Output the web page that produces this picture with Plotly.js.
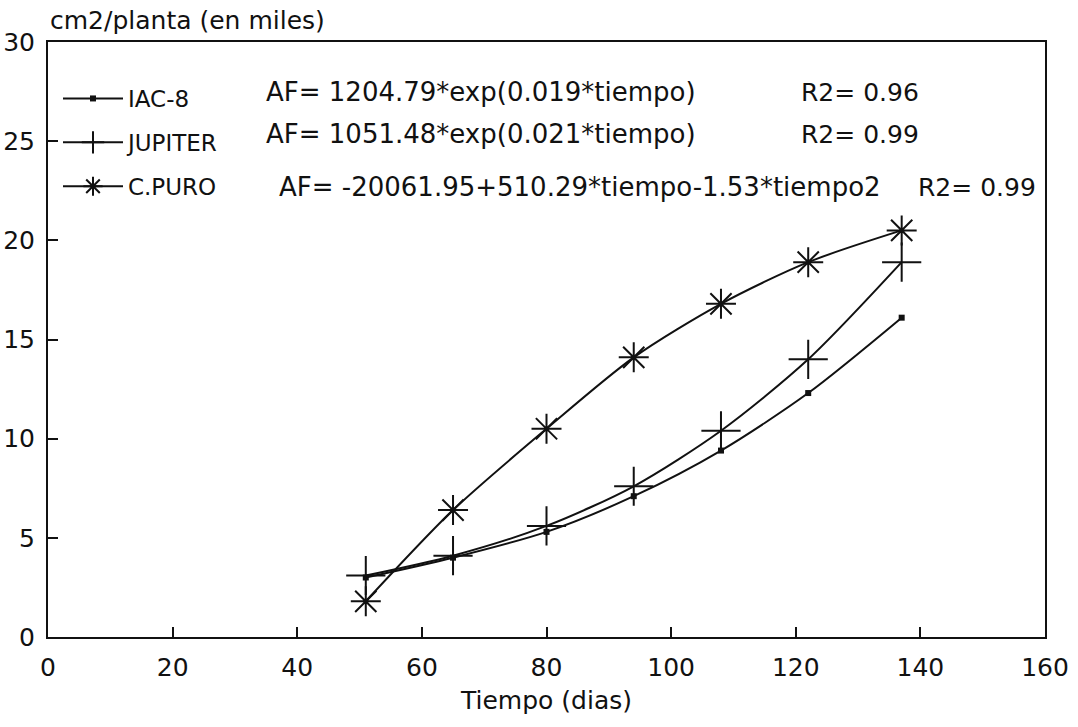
<!DOCTYPE html>
<html>
<head>
<meta charset="utf-8">
<script src="https://cdn.plot.ly/plotly-3.0.1.min.js"></script>
<style>html,body{margin:0;padding:0;background:#fff;}#chart{width:1078px;height:727px;}</style>
</head>
<body>
<div id="chart"></div>
<script>
// Data (days, thousands of cm2 per plant)
const dias = [51, 65, 80, 94, 108, 122, 137];
const iac8 = [3.0, 4.0, 5.3, 7.1, 9.4, 12.3, 16.1];
const jupiter = [3.1, 4.1, 5.6, 7.6, 10.4, 14.0, 18.9];
const cpuro = [1.8, 6.4, 10.5, 14.1, 16.8, 18.9, 20.5];
const seriesNames = ["IAC-8", "JUPITER", "C.PURO"];
const xTicks = [0, 20, 40, 60, 80, 100, 120, 140, 160];
const yTicks = [0, 5, 10, 15, 20, 25, 30];
const ecuaciones = [
  "AF= 1204.79*exp(0.019*tiempo)",
  "AF= 1051.48*exp(0.021*tiempo)",
  "AF= -20061.95+510.29*tiempo-1.53*tiempo2"
];
const r2 = ["R2= 0.96", "R2= 0.99", "R2= 0.99"];

const FONT = "DejaVu Sans, Liberation Sans, Arial, sans-serif";
const ink = "#111";

const W = 1078, H = 727, ML = 48, MR = 33, MT = 42, MB = 90;
const PW = W - ML - MR, PH = H - MT - MB;
const px = v => (v - ML) / PW;      // pixel -> paper x
const py = v => (H - MB - v) / PH;  // pixel -> paper y

const traces = [
  {x: dias, y: iac8, name: seriesNames[0], legendgroup: "a", mode: "lines+markers",
   line: {color: ink, width: 2, shape: "spline", smoothing: 0.8},
   marker: {symbol: "square", size: 6, color: ink}},
  {x: dias, y: jupiter, name: seriesNames[1], legendgroup: "b", mode: "lines+markers",
   line: {color: ink, width: 2, shape: "spline", smoothing: 0.8},
   marker: {symbol: "cross-thin-open", size: 28, color: ink, line: {color: ink, width: 2}}},
  {x: dias, y: cpuro, name: seriesNames[2], legendgroup: "c", mode: "lines+markers",
   line: {color: ink, width: 2, shape: "spline", smoothing: 0.8},
   marker: {symbol: "asterisk-open", size: 25, color: ink, line: {color: ink, width: 2}}}
];

const eqYpx = [92, 134, 187];
const eqXpx = [264, 264, 277];
const r2Xpx = [799, 799, 916];
const annotations = [];
for (let i = 0; i < 3; i++) {
  annotations.push({xref: "paper", yref: "paper", x: px(eqXpx[i]), y: py(eqYpx[i]), xanchor: "left", yanchor: "middle",
    text: ecuaciones[i], showarrow: false, font: {family: FONT, size: 26, color: ink}});
  annotations.push({xref: "paper", yref: "paper", x: px(r2Xpx[i]), y: py(eqYpx[i]), xanchor: "left", yanchor: "middle",
    text: r2[i], showarrow: false, font: {family: FONT, size: 25, color: ink}});
}
annotations.push({xref: "paper", yref: "paper", x: 0, y: 1, xanchor: "left", yanchor: "bottom", yshift: 5,
  text: "cm2/planta (en miles)", showarrow: false, font: {family: FONT, size: 25, color: ink}});

const layout = {
  width: W, height: H,
  margin: {l: ML, r: MR, t: MT, b: MB},
  paper_bgcolor: "#fff", plot_bgcolor: "#fff",
  font: {family: FONT, size: 25, color: ink},
  showlegend: true,
  legend: {x: px(58), y: py(77), xanchor: "left", yanchor: "top", bgcolor: "rgba(0,0,0,0)",
    font: {family: FONT, size: 23, color: ink}, tracegroupgap: 11, traceorder: "grouped", itemwidth: 60},
  xaxis: {range: [0, 160], tickvals: xTicks, ticktext: xTicks.map(String), ticks: "inside", ticklen: 10,
    tickwidth: 2, tickcolor: ink, showline: true, linecolor: ink, linewidth: 2, mirror: true,
    showgrid: false, zeroline: false, ticklabelstandoff: 7, tickfont: {family: FONT, size: 25, color: ink},
    title: {text: "Tiempo (dias)", font: {family: FONT, size: 25, color: ink}, standoff: 10}},
  yaxis: {range: [0, 30], tickvals: yTicks, ticktext: yTicks.map(String), ticks: "inside", ticklen: 10,
    tickwidth: 2, tickcolor: ink, showline: true, linecolor: ink, linewidth: 2, mirror: true,
    showgrid: false, zeroline: false, ticklabelstandoff: 6, tickfont: {family: FONT, size: 25, color: ink}},
  annotations: annotations
};

Plotly.newPlot("chart", traces, layout, {displayModeBar: false, staticPlot: true});
</script>
</body>
</html>
